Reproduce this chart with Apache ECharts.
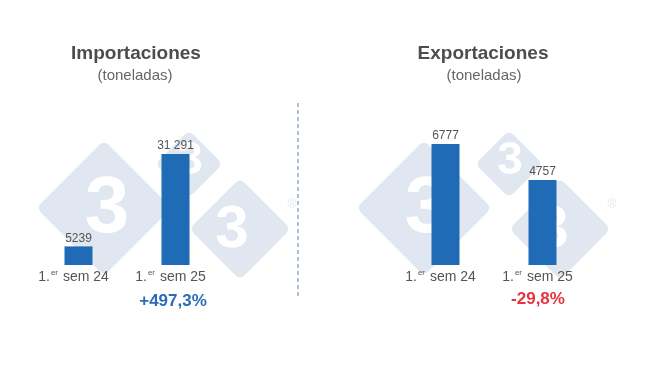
<!DOCTYPE html>
<html>
<head>
<meta charset="utf-8">
<script src="https://cdn.jsdelivr.net/npm/echarts@6/dist/echarts.min.js"></script>
<style>
html,body{margin:0;padding:0;background:#fff;}
#c{width:650px;height:366px;}
</style>
</head>
<body>
<div id="c"></div>
<script>
var categories = ['1.er sem 24', '1.er sem 25'];
var importValues = [5239, 31291];
var exportValues = [6777, 4757];
var panelTitles = ['Importaciones', 'Exportaciones'];
var panelUnits = ['(toneladas)', '(toneladas)'];
var changeLabels = ['+497,3%', '-29,8%'];

var FONT = 'Liberation Sans, Arial, sans-serif';
var BAR = '#1f6bb5';
var WM = '#e0e7f1';

function fmt(v) {
  var s = String(v);
  if (v >= 10000) s = s.slice(0, s.length - 3) + ' ' + s.slice(-3);
  return s;
}
function catFmt(v) {
  var rest = v.replace('1.er', '');
  return '{a|1.}{s|er}{a|' + rest + '}';
}

// watermark (decorative logo)
function diamond(cx, cy, half) {
  var s = half * Math.SQRT2;
  return {
    type: 'rect', x: cx, y: cy, rotation: Math.PI / 4, z: -10, silent: true,
    shape: { x: -s / 2, y: -s / 2, width: s, height: s, r: 8 },
    style: { fill: WM, stroke: '#fff', lineWidth: 3 }
  };
}
function three(cx, cy, size) {
  return {
    type: 'text', x: cx, y: cy, z: -9, silent: true,
    style: { text: '3', fill: '#fff', font: 'bold ' + size + 'px ' + FONT, align: 'center', verticalAlign: 'middle', textAlign: 'center', textVerticalAlign: 'middle' }
  };
}
function logo(dx) {
  return [
    diamond(104 + dx, 208, 70), three(107 + dx, 210, 80),
    diamond(189 + dx, 164, 36), three(190 + dx, 161, 46),
    diamond(240 + dx, 229, 53), three(232 + dx, 230, 60),
    { type: 'text', x: 292 + dx, y: 205, z: -9, silent: true,
      style: { text: '®', fill: WM, font: '12px ' + FONT, align: 'center', verticalAlign: 'middle', textAlign: 'center', textVerticalAlign: 'middle' } }
  ];
}

var graphics = logo(0).concat(logo(320));
graphics.push({
  type: 'line', z: 5, silent: true,
  shape: { x1: 298, y1: 103, x2: 298, y2: 298 },
  style: { stroke: '#8fb0cf', lineWidth: 1.5, lineDash: [4, 3] }
});
graphics.push({
  type: 'text', x: 173, y: 301, z: 5,
  style: { text: changeLabels[0], fill: '#2a6db5', font: 'bold 17px ' + FONT, align: 'center', verticalAlign: 'middle', textAlign: 'center', textVerticalAlign: 'middle' }
});
graphics.push({
  type: 'text', x: 538, y: 299, z: 5,
  style: { text: changeLabels[1], fill: '#e5343d', font: 'bold 17px ' + FONT, align: 'center', verticalAlign: 'middle', textAlign: 'center', textVerticalAlign: 'middle' }
});

function xAxis(i) {
  return {
    type: 'category', gridIndex: i, data: categories,
    axisLine: { show: false }, axisTick: { show: false },
    axisLabel: {
      interval: 0, hideOverlap: false,
      margin: 4, formatter: catFmt, padding: [0, 10, 0, 0],
      rich: {
        a: { fontSize: 14, color: '#555', fontFamily: FONT },
        s: { fontSize: 8, color: '#555', fontFamily: FONT, padding: [0, 1, 8, 1] }
      }
    }
  };
}
function yAxis(i) {
  return { type: 'value', gridIndex: i, min: 0, max: 'dataMax', show: false, splitLine: { show: false } };
}
function series(i, data) {
  return {
    type: 'bar', xAxisIndex: i, yAxisIndex: i, data: data, barWidth: 28,
    itemStyle: { color: BAR },
    label: {
      show: true, position: 'top', distance: 2, color: '#555', fontSize: 12, fontFamily: FONT,
      formatter: function (p) { return fmt(p.value); }
    }
  };
}

var chart = echarts.init(document.getElementById('c'), null, { renderer: 'canvas' });
chart.setOption({
  backgroundColor: '#fff',
  animation: false,
  title: [
    { text: panelTitles[0], left: 131, top: 39, textAlign: 'center', textStyle: { fontSize: 19, fontWeight: 'bold', color: '#4d4d4d', fontFamily: FONT } },
    { text: panelUnits[0], left: 130, top: 63, textAlign: 'center', textStyle: { fontSize: 15, fontWeight: 'normal', color: '#666', fontFamily: FONT } },
    { text: panelTitles[1], left: 478, top: 39, textAlign: 'center', textStyle: { fontSize: 19, fontWeight: 'bold', color: '#4d4d4d', fontFamily: FONT } },
    { text: panelUnits[1], left: 479, top: 63, textAlign: 'center', textStyle: { fontSize: 15, fontWeight: 'normal', color: '#666', fontFamily: FONT } }
  ],
  grid: [
    { left: 30, width: 194, top: 154, bottom: 101 },
    { left: 397, width: 194, top: 144, bottom: 101 }
  ],
  xAxis: [xAxis(0), xAxis(1)],
  yAxis: [yAxis(0), yAxis(1)],
  series: [series(0, importValues), series(1, exportValues)],
  graphic: graphics
});
</script>
</body>
</html>
